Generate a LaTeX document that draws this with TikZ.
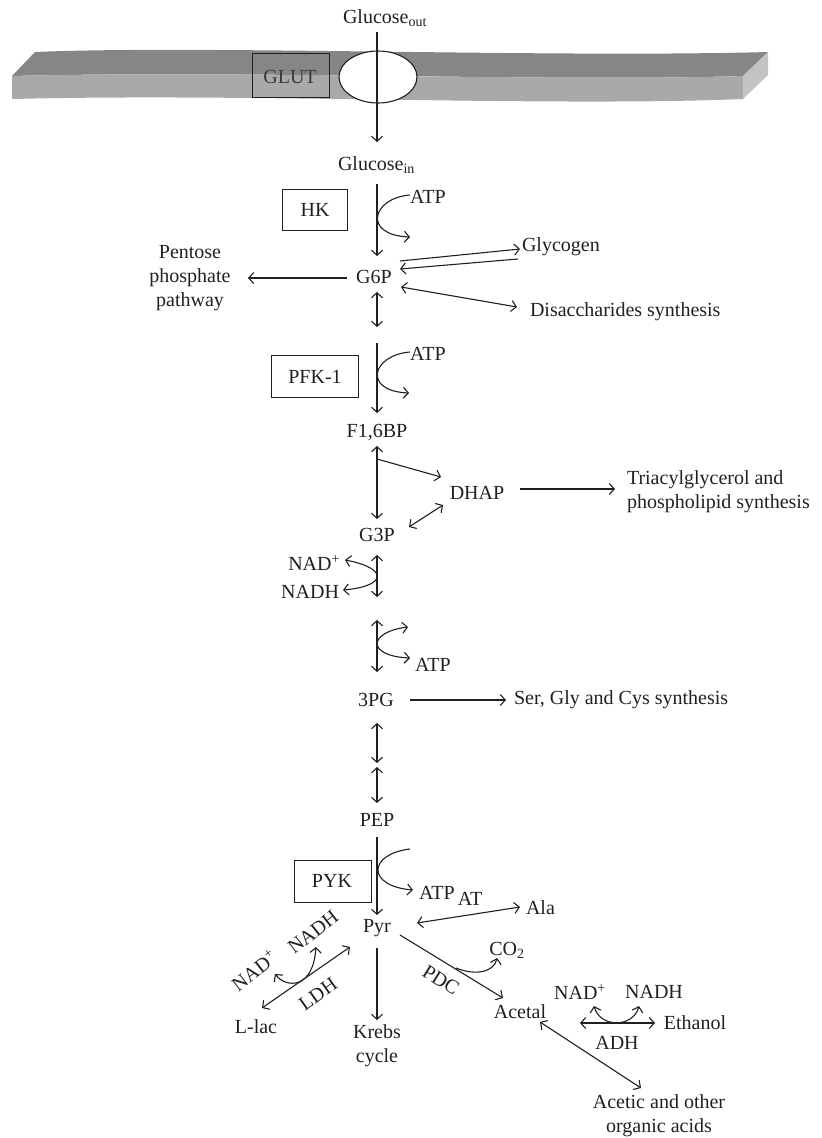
\documentclass[tikz,border=0pt]{standalone}
\usepackage{fontspec}
\setmainfont{Liberation Serif}
\usetikzlibrary{arrows.meta}

\definecolor{ink}{HTML}{231F20}
\definecolor{memtop}{HTML}{868686}
\definecolor{memfront}{HTML}{A9A9A9}
\definecolor{memside}{HTML}{C2C4C4}
\definecolor{glutink}{HTML}{3A3A3A}

\begin{document}
\begin{tikzpicture}[x=1pt, y=-1pt, inner sep=0pt, outer sep=0pt,
  lbl/.style={font=\fontsize{20}{24}\selectfont, text=ink},
  enzbox/.style={draw=ink, line width=1pt},
  rxn/.style={draw=ink, line width=1.1pt, -{Straight Barb[length=5pt,width=11pt]}},
  rev/.style={draw=ink, line width=1.1pt,
    {Straight Barb[length=5pt,width=11pt]}-{Straight Barb[length=5pt,width=11pt]}}]
\useasboundingbox (0,0) rectangle (822,1138);

% membrane
\path[fill=memtop] (12,76) -- (35,52) .. controls (200,45) and (550,58) .. (768,52)
  -- (743,76) .. controls (550,82) and (250,70) .. (12,76) -- cycle;
\path[fill=memfront] (12,76) .. controls (250,70) and (550,82) .. (743,76)
  -- (743,99) .. controls (550,107) and (250,93) .. (12,99) -- cycle;
\path[fill=memside] (743,76) -- (768,52) -- (768,75) -- (743,99) -- cycle;
\path[enzbox] (252,53) rectangle (329,97);
\path[draw=ink, fill=white, line width=1.1pt] (378,77) ellipse [x radius=39, y radius=26];

% labels
\node[lbl, anchor=west] (gout) at (343,18) {Glucose\textsubscript{out}};
\node[lbl, anchor=west] (gin) at (338,165) {Glucose\textsubscript{in}};
\node[lbl, text=glutink] (glut) at (290,77) {GLUT};
\node[lbl] (hk) at (315,210) {HK};
\node[lbl] (atp1) at (428,197) {ATP};
\node[lbl] (g6p) at (374,277) {G6P};
\node[lbl, align=center] (ppp) at (190,278) {Pentose\\phosphate\\pathway};
\node[lbl, anchor=west] (glyc) at (522,247) {Glycogen};
\node[lbl, anchor=west] (disac) at (530,312) {Disaccharides synthesis};
\node[lbl] (pfk) at (315,377) {PFK-1};
\node[lbl] (atp2) at (428,354) {ATP};
\node[lbl] (f16bp) at (377,432) {F1,6BP};
\node[lbl] (dhap) at (477,493) {DHAP};
\node[lbl, align=left, anchor=west] (tag) at (627,492) {Triacylglycerol and\\phospholipid synthesis};
\node[lbl] (g3p) at (377,535) {G3P};
\node[lbl, anchor=east] (nad1) at (340,563) {NAD\textsuperscript{+}};
\node[lbl, anchor=east] (nadh1) at (339,592) {NADH};
\node[lbl] (atp3) at (433,665) {ATP};
\node[lbl] (pg3) at (376,700) {3PG};
\node[lbl, anchor=west] (ser) at (514,700) {Ser, Gly and Cys synthesis};
\node[lbl] (pep) at (377,820) {PEP};
\node[lbl] (pyk) at (332,881) {PYK};
\node[lbl] (atp4) at (437,893) {ATP};
\node[lbl] (at) at (470,899) {AT};
\node[lbl, anchor=west] (ala) at (526,908) {Ala};
\node[lbl] (pyr) at (377,928) {Pyr};
\node[lbl, align=center] (krebs) at (377,1046) {Krebs\\cycle};
\node[lbl, rotate=-32] (pdc) at (441,980) {PDC};
\node[lbl] (co2) at (507,950) {CO\textsubscript{2}};
\node[lbl] (acetal) at (520,1012) {Acetal};
\node[lbl] (nad3) at (580,992) {NAD\textsuperscript{+}};
\node[lbl] (nadh3) at (654,992) {NADH};
\node[lbl] (etoh) at (695,1023) {Ethanol};
\node[lbl] (adh) at (617,1043) {ADH};
\node[lbl, align=center] (acids) at (659,1116) {Acetic and other\\organic acids};
\node[lbl] (llac) at (256,1027) {L-lac};
\node[lbl, rotate=35] (ldh) at (318,994) {LDH};
\node[lbl, rotate=38] (nad2) at (254,970) {NAD\textsuperscript{+}};
\node[lbl, rotate=38] (nadh2) at (313,932) {NADH};

% enzyme boxes
\path[enzbox] (hk) +(-33,-21) rectangle +(32,20);
\path[enzbox] (pfk) +(-44,-22) rectangle +(43,20);
\path[enzbox] (pyk) +(-38,-21) rectangle +(39,21);

% end points of the connectors
\path (377,32) coordinate (inA) (377,142) coordinate (inB)
  (377,184) coordinate (hkA) (377,256) coordinate (hkB)
  (347,278) coordinate (pppA) (248,278) coordinate (pppB)
  (400,261) coordinate (glyA) (520,249) coordinate (glyB)
  (518,259) coordinate (glyC) (400,269) coordinate (glyD)
  (401,287) coordinate (disA) (517,307) coordinate (disB)
  (377,292) coordinate (g6pA) (377,327) coordinate (g6pB)
  (377,343) coordinate (pfkA) (377,413) coordinate (pfkB)
  (377,446) coordinate (aldA) (377,519) coordinate (aldB)
  (377,459) coordinate (dhA) (441,477) coordinate (dhB)
  (520,489) coordinate (tagA) (615,489) coordinate (tagB)
  (409,527) coordinate (tpiA) (443,505) coordinate (tpiB)
  (377,555) coordinate (gapA) (377,597) coordinate (gapB)
  (377,620) coordinate (pgkA) (377,672) coordinate (pgkB)
  (410,700) coordinate (serA) (506,700) coordinate (serB)
  (377,723) coordinate (pgmA) (377,763) coordinate (pgmB)
  (377,767) coordinate (enoA) (377,803) coordinate (enoB)
  (377,837) coordinate (pykA) (377,915) coordinate (pykB)
  (417,923) coordinate (alaA) (520,907) coordinate (alaB)
  (377,948) coordinate (tcaA) (377,1020) coordinate (tcaB)
  (400,935) coordinate (pdcA) (503,998) coordinate (pdcB)
  (350,947) coordinate (ldhA) (262,1008) coordinate (ldhB)
  (580,1023) coordinate (adhA) (655,1023) coordinate (adhB)
  (540,1022) coordinate (acA) (641,1088) coordinate (acB);

% connectors
\draw[rxn] (inA) -- (inB);
\draw[rxn] (hkA) -- (hkB);
\draw[rxn] (pppA) -- (pppB);
\draw[rxn] (glyA) -- (glyB);
\draw[rxn] (glyC) -- (glyD);
\draw[rev] (disA) -- (disB);
\draw[rev] (g6pA) -- (g6pB);
\draw[rxn] (pfkA) -- (pfkB);
\draw[rev] (aldA) -- (aldB);
\draw[rxn] (dhA) -- (dhB);
\draw[rxn] (tagA) -- (tagB);
\draw[rev] (tpiA) -- (tpiB);
\draw[rev] (gapA) -- (gapB);
\draw[rev] (pgkA) -- (pgkB);
\draw[rxn] (serA) -- (serB);
\draw[rev] (pgmA) -- (pgmB);
\draw[rev] (enoA) -- (enoB);
\draw[rxn] (pykA) -- (pykB);
\draw[rev] (alaA) -- (alaB);
\draw[rxn] (tcaA) -- (tcaB);
\draw[rxn] (pdcA) -- (pdcB);
\draw[rev] (ldhA) -- (ldhB);
\draw[rev] (adhA) -- (adhB);
\draw[rev] (acA) -- (acB);

% cofactor curves
\draw[rxn] (410,195) .. controls (372,198) and (362,235) .. (410,237);
\draw[rxn] (410,352) .. controls (372,355) and (362,391) .. (409,393);
\draw[rev] (345,560) .. controls (388,568) and (388,586) .. (343,590);
\draw[rev] (408,627) .. controls (368,632) and (366,656) .. (410,658);
\draw[rxn] (410,849) .. controls (368,854) and (366,886) .. (413,890);
\draw[rxn] (456,968) .. controls (476,976) and (494,972) .. (497,958);
\draw[rev] (594,1006) .. controls (600,1028) and (633,1028) .. (639,1006);
\draw[rev] (275,974) .. controls (286,988) and (313,990) .. (316,947);
\end{tikzpicture}
\end{document}
